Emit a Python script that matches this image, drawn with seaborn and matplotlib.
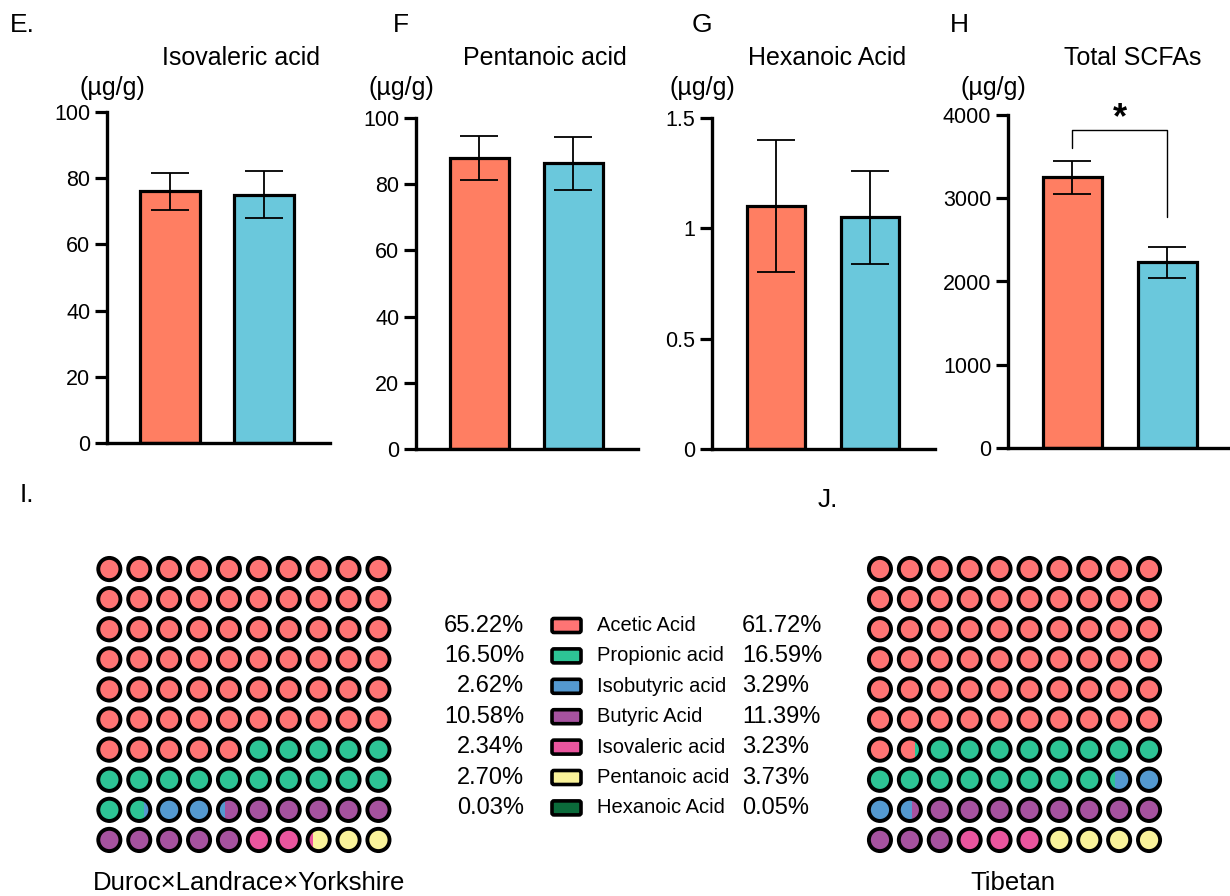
import numpy as np
import pandas as pd
import seaborn as sns
import matplotlib.pyplot as plt
from matplotlib.patches import Circle, Rectangle, FancyBboxPatch

# groups and bar-panel data (mean, error)
groups = ["Duroc×Landrace×Yorkshire", "Tibetan"]
titles = ["Isovaleric acid", "Pentanoic acid", "Hexanoic Acid", "Total SCFAs"]
letters = ["E.", "F", "G", "H"]
means_dly = [76.0, 88.0, 1.10, 3250]
means_tib = [75.0, 86.3, 1.05, 2230]
err_dly = [5.6, 6.7, 0.30, 198]
err_tib = [7.2, 8.1, 0.21, 186]
ymax = [100, 100, 1.5, 4000]
yticks = [[0, 20, 40, 60, 80, 100], [0, 20, 40, 60, 80, 100],
          [0, 0.5, 1, 1.5], [0, 1000, 2000, 3000, 4000]]
ytick_labels = [None, None, ["0", "0.5", "1", "1.5"], None]

# waffle composition (%)
acids = ["Acetic Acid", "Propionic acid", "Isobutyric acid", "Butyric Acid",
         "Isovaleric acid", "Pentanoic acid", "Hexanoic Acid"]
pct_dly = [65.22, 16.50, 2.62, 10.58, 2.34, 2.70, 0.03]
pct_tib = [61.72, 16.59, 3.29, 11.39, 3.23, 3.73, 0.05]
acid_colors = ["#FF7474", "#2DC495", "#5499D0", "#A6529F", "#EA559E",
               "#FAF39A", "#0B6B3B"]
bar_colors = ["#FF7E62", "#6AC8DC"]

sns.set_theme(style="ticks")
plt.rcParams['font.family'] = ['Liberation Sans', 'DejaVu Sans']
plt.rcParams['text.color'] = 'black'

W, H = 1230, 896
fig = plt.figure(figsize=(W / 100, H / 100), dpi=100)


def rect(l, t, r, b):
    return [l / W, 1 - b / H, (r - l) / W, (b - t) / H]


def ftxt(x, y, s, **kw):
    fig.text(x / W, 1 - y / H, s, **kw)


# pixel layout of each bar panel: left, top, right, bottom, bar centres, bar width
layout = [(107, 111.7, 330, 443.3, 170, 264, 60),
          (416, 118, 638, 449, 479, 573, 59),
          (712, 118, 935, 449, 775.5, 870, 58),
          (1008, 115, 1230, 448, 1072, 1167, 59)]
title_x = [241, 545, 827, 1133]
unit_x = [112, 401, 702, 993]
letter_x = [10, 393, 692, 950]

for i in range(4):
    l, t, r, b, c0, c1, bw = layout[i]
    ax = fig.add_axes(rect(l, t, r, b))
    df = pd.DataFrame({"group": groups, "value": [means_dly[i], means_tib[i]]})
    unit = c1 - c0
    sns.barplot(data=df, x="group", y="value", hue="group", order=groups,
                hue_order=groups, palette=bar_colors, saturation=1,
                width=bw / unit, edgecolor="black", linewidth=2.3,
                errorbar=None, legend=False, ax=ax, zorder=2)
    ax.errorbar([0, 1], df["value"], yerr=[err_dly[i], err_tib[i]], fmt="none",
                ecolor="black", elinewidth=1.3, capsize=14, capthick=1.3, zorder=3)
    ax.set_xlim(-(c0 - l) / unit, 1 + (r - c1) / unit)
    ax.set_ylim(0, ymax[i])
    ax.set_yticks(yticks[i])
    if ytick_labels[i]:
        ax.set_yticklabels(ytick_labels[i])
    ax.set_xticks([])
    ax.set_xlabel("")
    ax.set_ylabel("")
    ax.patch.set_alpha(0)
    for s in ["top", "right"]:
        ax.spines[s].set_visible(False)
    for s in ["left", "bottom"]:
        ax.spines[s].set_linewidth(2.4)
        ax.spines[s].set_color("black")
    ax.spines["bottom"].set_zorder(4)
    ax.tick_params(axis="y", length=9, width=2.3, color="black",
                   labelsize=15.5, pad=3, labelcolor="black")
    ftxt(title_x[i], 58, titles[i], ha="center", va="center", fontsize=18)
    ftxt(unit_x[i], 88, "(µg/g)", ha="center", va="center", fontsize=18)
    ftxt(letter_x[i], 25, letters[i], ha="left", va="center", fontsize=19)
    if i == 3:
        # significance bracket
        yb = 3820
        ax.plot([0, 0, 1, 1], [3600, yb, yb, 2780], color="black", lw=1.0,
                zorder=3, clip_on=False)
        ax.text(0.5, 3950, "*", ha="center", va="center", fontsize=26,
                fontweight="bold")


def waffle(ax, pct):
    cum = np.concatenate([[0], np.cumsum(pct)])
    for k in range(100):
        row, col = divmod(k, 10)
        parts = []
        for j in range(len(pct)):
            f = min(cum[j + 1], k + 1) - max(cum[j], k)
            if f >= 0.25:
                parts.append((acid_colors[j], f))
        tot = sum(f for _, f in parts)
        rr = 0.37
        clip = Circle((col, row), rr, transform=ax.transData)
        x0 = col - rr
        for c, f in parts:
            w = 2 * rr * f / tot
            p = Rectangle((x0, row - rr), w, 2 * rr, facecolor=c, edgecolor="none")
            ax.add_patch(p)
            p.set_clip_path(clip)
            x0 += w
        ax.add_patch(Circle((col, row), rr, facecolor="none", edgecolor="black",
                            linewidth=2.8))
    ax.set_xlim(-0.5, 9.5)
    ax.set_ylim(9.5, -0.5)
    ax.set_axis_off()


ax_i = fig.add_axes(rect(94.4, 554, 393.4, 855))
waffle(ax_i, pct_dly)
ax_j = fig.add_axes(rect(865, 554, 1164, 855))
waffle(ax_j, pct_tib)

ftxt(20, 495, "I.", ha="left", va="center", fontsize=19)
ftxt(818, 500, "J.", ha="left", va="center", fontsize=19)
ftxt(249, 883, groups[0], ha="center", va="center", fontsize=18.5)
ftxt(1013, 883, groups[1], ha="center", va="center", fontsize=18.5)

# legend with percentages
lg = fig.add_axes(rect(420, 600, 840, 830))
lg.set_xlim(420, 840)
lg.set_ylim(830, 600)
lg.set_axis_off()
for k, name in enumerate(acids):
    y = 625.5 + k * 30.4
    lg.add_patch(FancyBboxPatch((552, y - 7), 29, 14,
                                boxstyle="round,pad=0,rounding_size=2",
                                facecolor=acid_colors[k], edgecolor="black",
                                linewidth=2.6))
    lg.text(597, y, name, ha="left", va="center", fontsize=14.5)
    lg.text(524, y, f"{pct_dly[k]:.2f}%", ha="right", va="center", fontsize=17)
    lg.text(742, y, f"{pct_tib[k]:.2f}%", ha="left", va="center", fontsize=17)

fig.savefig("out.png", dpi=100)
